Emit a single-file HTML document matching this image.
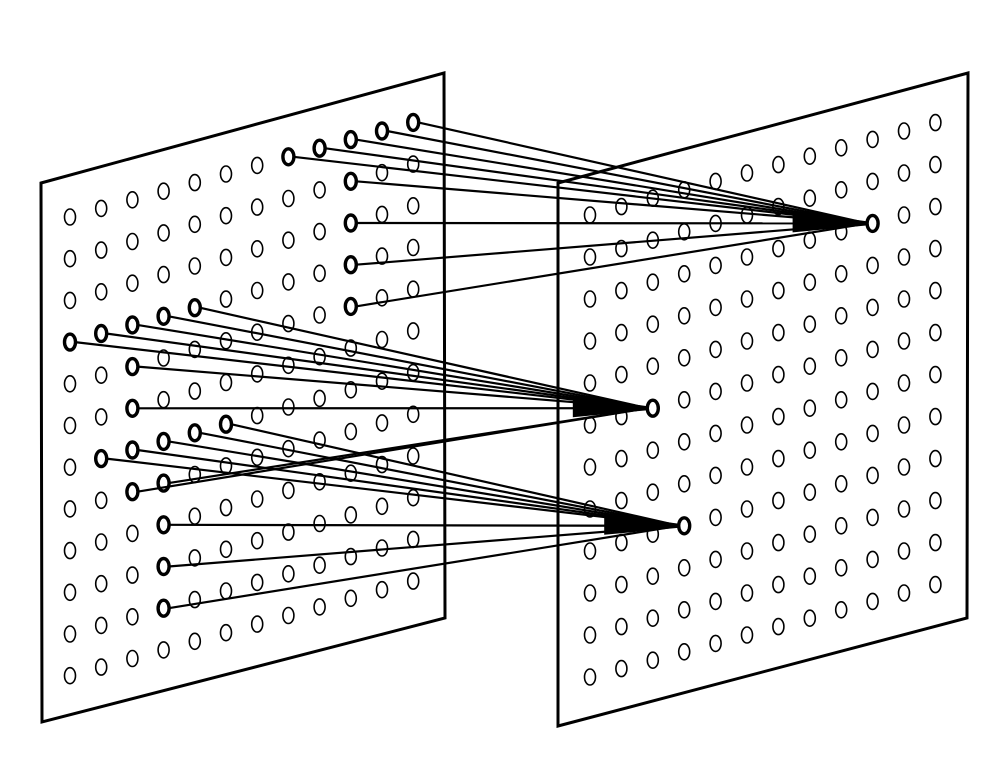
<!DOCTYPE html>
<html><head><meta charset="utf-8"><style>html,body{margin:0;padding:0;background:#fff}svg{display:block}</style></head>
<body>
<svg id="s" width="1006" height="760" viewBox="0 0 1006 760" xmlns="http://www.w3.org/2000/svg">
<rect width="1006" height="760" fill="#fff"/>
<polygon points="41,183 444,73 445,618 42,722" fill="none" stroke="#000" stroke-width="3"/>
<g id="lg"></g>
<polygon points="558,183 968,73 967,618 558,726" fill="#fff" stroke="#000" stroke-width="3"/>
<g id="rg"></g>
<g id="ln"></g>
</svg>
<script>
var NS="http://www.w3.org/2000/svg";
function L(c,r){return [70+c*31.2, 217+r*41.7-c*8.6];}
function R(c,r){return [590+c*31.4, 215+r*42-c*8.4];}
function el(p,tag,a){var e=document.createElementNS(NS,tag);for(var k in a)e.setAttribute(k,a[k]);p.appendChild(e);return e;}
var lg=document.getElementById('lg'),rg=document.getElementById('rg'),ln=document.getElementById('ln');
var t1=R(9,2),t2=R(2,5),t3=R(3,8);
var g1=[[11,0],[10,0],[9,0],[8,0],[7,0],[9,1],[9,2],[9,3],[9,4]];
var g2=[[0,3],[1,3],[2,3],[3,3],[4,3],[2,4],[2,5],[2,7],[3,7]];
var g3=[[1,6],[2,6],[3,6],[4,6],[5,6],[3,8],[3,9],[3,10]];
var hl={};[g1,g2,g3].forEach(function(g){g.forEach(function(p){hl[p[0]+','+p[1]]=1;});});
for(var c=0;c<12;c++)for(var r=0;r<12;r++){var p=L(c,r);
 var h=hl[c+','+r];
 el(lg,'ellipse',{cx:p[0],cy:p[1],rx:5.5,ry:8,fill:'#fff',stroke:'#000','stroke-width':h?3.4:1.6});
 var q=R(c,r);
 el(rg,'ellipse',{cx:q[0],cy:q[1],rx:5.5,ry:8,fill:'#fff',stroke:'#000','stroke-width':1.6});
}
function draw(g,t){g.forEach(function(p){var a=L(p[0],p[1]);
 el(ln,'line',{x1:a[0]+5,y1:a[1],x2:t[0]-5,y2:t[1],stroke:'#000','stroke-width':2.2});});
 el(ln,'polygon',{points:(t[0]-80)+','+(t[1]-12)+' '+(t[0]-5)+','+(t[1]-2)+' '+(t[0]-5)+','+(t[1]+2)+' '+(t[0]-80)+','+(t[1]+9),fill:'#000'});
 el(ln,'ellipse',{cx:t[0],cy:t[1],rx:5.5,ry:8,fill:'#fff',stroke:'#000','stroke-width':3.4});
}
draw(g1,t1);draw(g2,t2);draw(g3,t3);
</script>
</body></html>
